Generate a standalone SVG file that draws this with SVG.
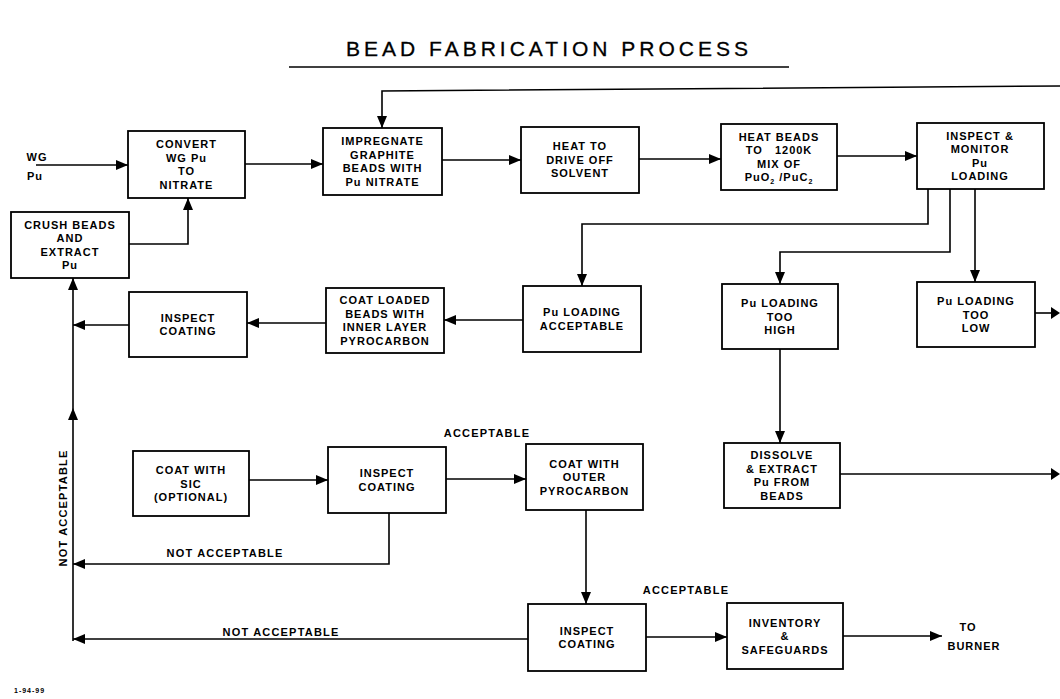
<svg xmlns="http://www.w3.org/2000/svg" width="1060" height="699" viewBox="0 0 1060 699">
<defs>
<style>
.box{fill:#fff;stroke:#000;stroke-width:1.8}
.t{font-family:"Liberation Sans",Arial,sans-serif;font-weight:bold;font-size:11px;letter-spacing:1px;text-anchor:middle;fill:#000}
.lbl{font-family:"Liberation Sans",Arial,sans-serif;font-weight:bold;font-size:11px;letter-spacing:1.2px;text-anchor:middle;fill:#000}
.c{fill:none;stroke:#000;stroke-width:1.6;marker-end:url(#ah)}
.cn{fill:none;stroke:#000;stroke-width:1.6}
.sub{font-size:7px}
</style>
<marker id="ah" markerUnits="userSpaceOnUse" markerWidth="12" markerHeight="10" refX="12" refY="5" orient="auto">
<path d="M0,0 L12,5 L0,10 z" fill="#000"/>
</marker>
</defs>
<rect width="1060" height="699" fill="#fff"/>

<g id="title">
<text x="549" y="56" style="font-family:'Liberation Sans',Arial,sans-serif;font-size:21px;letter-spacing:4px;text-anchor:middle;stroke:#000;stroke-width:0.3">BEAD FABRICATION PROCESS</text>
<line x1="289" y1="67" x2="789" y2="67" stroke="#000" stroke-width="1.5"/>
</g>

<g id="connectors">
<path class="c" d="M36,165 H128"/>
<path class="c" d="M245,164 H323"/>
<path class="c" d="M442,160 H521"/>
<path class="c" d="M639,159 H721"/>
<path class="c" d="M837,156 H917"/>
<path class="c" d="M129,244 H188 V198"/>
<path class="c" d="M1060,86 L382,91 V128"/>
<path class="c" d="M928,189 V224 H582 V286"/>
<path class="c" d="M950,189 V252 H780 V284"/>
<path class="c" d="M975,189 V282"/>
<path class="cn" d="M1035,313 H1054"/>
<path d="M1051,307 L1060,313 L1051,319 z" fill="#000"/>
<path class="c" d="M780,349 V443"/>
<path class="cn" d="M840,474 H1054"/>
<path d="M1051,468 L1060,474 L1051,480 z" fill="#000"/>
<path class="c" d="M523,320 H444"/>
<path class="c" d="M326,323 H247"/>
<path class="c" d="M129,325 H73"/>
<path class="c" d="M73,641 V408"/>
<path class="c" d="M73,408 V278"/>
<path class="c" d="M249,480 H328"/>
<path class="c" d="M389,513 V564 H73"/>
<path class="c" d="M446,479 H526"/>
<path class="c" d="M586,510 V604"/>
<path class="c" d="M528,639 H73"/>
<path class="c" d="M646,637 H727"/>
<path class="c" d="M843,636 H942"/>
<text class="lbl" x="487" y="437">ACCEPTABLE</text>
<text class="lbl" x="225" y="557">NOT ACCEPTABLE</text>
<text class="lbl" x="281" y="636">NOT ACCEPTABLE</text>
<text class="lbl" x="686" y="594">ACCEPTABLE</text>
<text class="lbl" transform="translate(67,508) rotate(-90)">NOT ACCEPTABLE</text>
</g>

<g id="input">
<text class="t" x="37" y="161">WG</text>
<text class="t" x="35" y="180">Pu</text>
</g>

<g id="convert">
<rect class="box" x="128" y="131" width="117" height="67"/>
<text class="t" x="186.5" y="148">CONVERT</text>
<text class="t" x="186.5" y="162">WG Pu</text>
<text class="t" x="186.5" y="175">TO</text>
<text class="t" x="186.5" y="189">NITRATE</text>
</g>

<g id="crush">
<rect class="box" x="11" y="212" width="118" height="66"/>
<text class="t" x="70" y="229">CRUSH BEADS</text>
<text class="t" x="70" y="242">AND</text>
<text class="t" x="70" y="256">EXTRACT</text>
<text class="t" x="70" y="269">Pu</text>
</g>

<g id="impregnate">
<rect class="box" x="323" y="128" width="119" height="67"/>
<text class="t" x="382.5" y="145">IMPREGNATE</text>
<text class="t" x="382.5" y="159">GRAPHITE</text>
<text class="t" x="382.5" y="172">BEADS WITH</text>
<text class="t" x="382.5" y="186">Pu NITRATE</text>
</g>

<g id="heat-solvent">
<rect class="box" x="521" y="127" width="118" height="66"/>
<text class="t" x="580" y="150">HEAT TO</text>
<text class="t" x="580" y="164">DRIVE OFF</text>
<text class="t" x="580" y="177">SOLVENT</text>
</g>

<g id="heat-beads">
<rect class="box" x="721" y="124" width="116" height="66"/>
<text class="t" x="779" y="141">HEAT BEADS</text>
<text class="t" x="779" y="154" xml:space="preserve">TO   1200K</text>
<text class="t" x="779" y="168">MIX OF</text>
<text class="t" x="779" y="181">PuO<tspan class="sub" dy="3">2</tspan><tspan dy="-3"> /PuC</tspan><tspan class="sub" dy="3">2</tspan></text>
</g>

<g id="inspect-monitor">
<rect class="box" x="917" y="123" width="127" height="66"/>
<text class="t" x="980" y="140">INSPECT &amp;</text>
<text class="t" x="980" y="153">MONITOR</text>
<text class="t" x="980" y="167">Pu</text>
<text class="t" x="980" y="180">LOADING</text>
</g>

<g id="loading-acceptable">
<rect class="box" x="523" y="286" width="118" height="66"/>
<text class="t" x="582" y="316">Pu LOADING</text>
<text class="t" x="582" y="330">ACCEPTABLE</text>
</g>

<g id="loading-high">
<rect class="box" x="722" y="284" width="116" height="65"/>
<text class="t" x="780" y="307">Pu LOADING</text>
<text class="t" x="780" y="320.5">TOO</text>
<text class="t" x="780" y="334">HIGH</text>
</g>

<g id="loading-low">
<rect class="box" x="917" y="282" width="118" height="65"/>
<text class="t" x="976" y="305">Pu LOADING</text>
<text class="t" x="976" y="318.5">TOO</text>
<text class="t" x="976" y="332">LOW</text>
</g>

<g id="coat-inner">
<rect class="box" x="326" y="288" width="118" height="65"/>
<text class="t" x="385" y="304">COAT LOADED</text>
<text class="t" x="385" y="318">BEADS WITH</text>
<text class="t" x="385" y="331">INNER LAYER</text>
<text class="t" x="385" y="345">PYROCARBON</text>
</g>

<g id="inspect-inner">
<rect class="box" x="129" y="292" width="118" height="65"/>
<text class="t" x="188" y="322">INSPECT</text>
<text class="t" x="188" y="335">COATING</text>
</g>

<g id="coat-sic">
<rect class="box" x="133" y="451" width="116" height="65"/>
<text class="t" x="191" y="474">COAT WITH</text>
<text class="t" x="191" y="487.5">SIC</text>
<text class="t" x="191" y="501">(OPTIONAL)</text>
</g>

<g id="inspect-sic">
<rect class="box" x="328" y="447" width="118" height="66"/>
<text class="t" x="387" y="477">INSPECT</text>
<text class="t" x="387" y="491">COATING</text>
</g>

<g id="coat-outer">
<rect class="box" x="526" y="444" width="117" height="66"/>
<text class="t" x="584.5" y="467.5">COAT WITH</text>
<text class="t" x="584.5" y="481">OUTER</text>
<text class="t" x="584.5" y="494.5">PYROCARBON</text>
</g>

<g id="dissolve">
<rect class="box" x="724" y="443" width="116" height="65"/>
<text class="t" x="782" y="459">DISSOLVE</text>
<text class="t" x="782" y="473">&amp; EXTRACT</text>
<text class="t" x="782" y="486">Pu FROM</text>
<text class="t" x="782" y="500">BEADS</text>
</g>

<g id="inspect-outer">
<rect class="box" x="528" y="604" width="118" height="67"/>
<text class="t" x="587" y="635">INSPECT</text>
<text class="t" x="587" y="648">COATING</text>
</g>

<g id="inventory">
<rect class="box" x="727" y="603" width="116" height="66"/>
<text class="t" x="785" y="626.5">INVENTORY</text>
<text class="t" x="785" y="640">&amp;</text>
<text class="t" x="785" y="653.5">SAFEGUARDS</text>
</g>

<g id="burner">
<text class="t" x="968" y="631">TO</text>
<text class="t" x="974" y="650">BURNER</text>
</g>

<g id="ref">
<text x="14" y="693" style="font-family:'Liberation Sans',Arial,sans-serif;font-weight:bold;font-size:7px;letter-spacing:1px">1-94-99</text>
</g>
</svg>
